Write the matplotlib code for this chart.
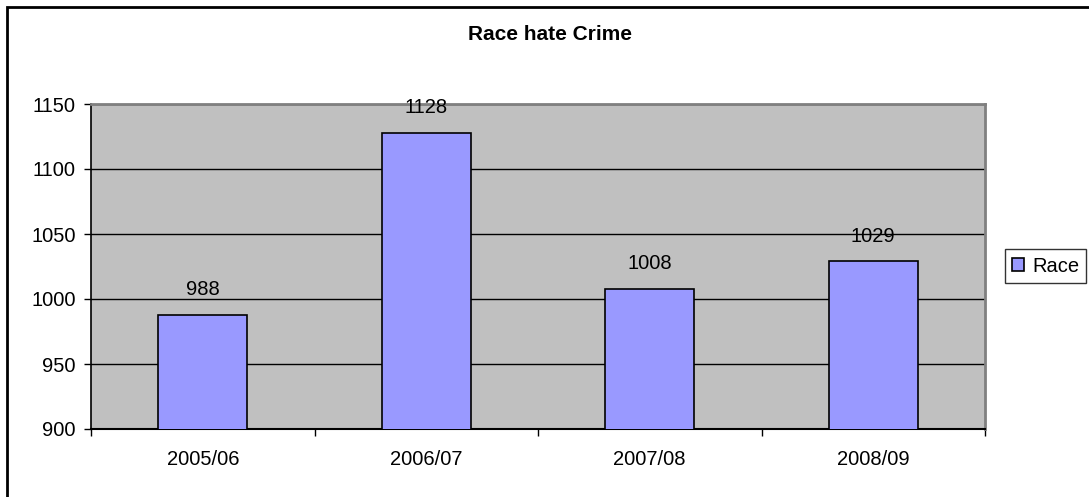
import numpy as np
import matplotlib.pyplot as plt
from matplotlib.patches import Rectangle

years = ["2005/06", "2006/07", "2007/08", "2008/09"]
race = [988, 1128, 1008, 1029]

plt.rcParams['font.family'] = ['Liberation Sans', 'DejaVu Sans']

W, H = 1089, 497
fig = plt.figure(figsize=(W / 100, H / 100), dpi=100)
ax = fig.add_axes([91 / W, 1 - 429 / H, (985 - 91) / W, (429 - 104) / H])

x = np.arange(len(years))
bars = ax.bar(x, race, width=0.4, color='#9999FF', edgecolor='black', linewidth=1.2,
              label='Race', zorder=3)
for xi, v in zip(x, race):
    ax.annotate(str(v), (xi, v), xytext=(0, 14), textcoords='offset points',
                ha='center', va='baseline', fontsize=14.5)

ax.set_facecolor('#C0C0C0')
ax.set_xlim(-0.5, len(years) - 0.5)
ax.set_ylim(900, 1150)
ax.set_yticks(np.arange(900, 1151, 50))
ax.yaxis.grid(True, color='black', linewidth=1, zorder=1)
ax.set_axisbelow(True)

ax.set_xticks(x)
ax.set_xticklabels(years)
ax.set_xticks(np.arange(-0.5, len(years), 1), minor=True)
ax.tick_params(axis='x', which='major', length=0, pad=15, labelsize=14.5)
ax.tick_params(axis='x', which='minor', length=5, direction='out', width=1)
ax.tick_params(axis='y', length=5, direction='out', width=1, pad=6, labelsize=14.5)

for s in ['top', 'right']:
    ax.spines[s].set_color('#808080')
    ax.spines[s].set_linewidth(2)
ax.spines['left'].set_linewidth(1.2)
ax.spines['bottom'].set_linewidth(1.5)

fig.text(550 / W, 1 - 35 / H, "Race hate Crime", ha='center', va='center',
         fontsize=15, fontweight='bold')

leg = ax.legend(loc='center left', bbox_to_anchor=(1005 / W, 1 - 266 / H),
                bbox_transform=fig.transFigure, fontsize=14.5, frameon=True,
                fancybox=False, edgecolor='black', handlelength=0.6,
                handleheight=0.6, handletextpad=0.4, borderpad=0.35,
                borderaxespad=0)
leg.get_frame().set_linewidth(1)

fig.patches.append(Rectangle((7 / W, -0.1), 1.2, 1 - 7 / H + 0.1,
                             transform=fig.transFigure, fill=False,
                             edgecolor='black', linewidth=2))

fig.savefig('out.png', dpi=100)
